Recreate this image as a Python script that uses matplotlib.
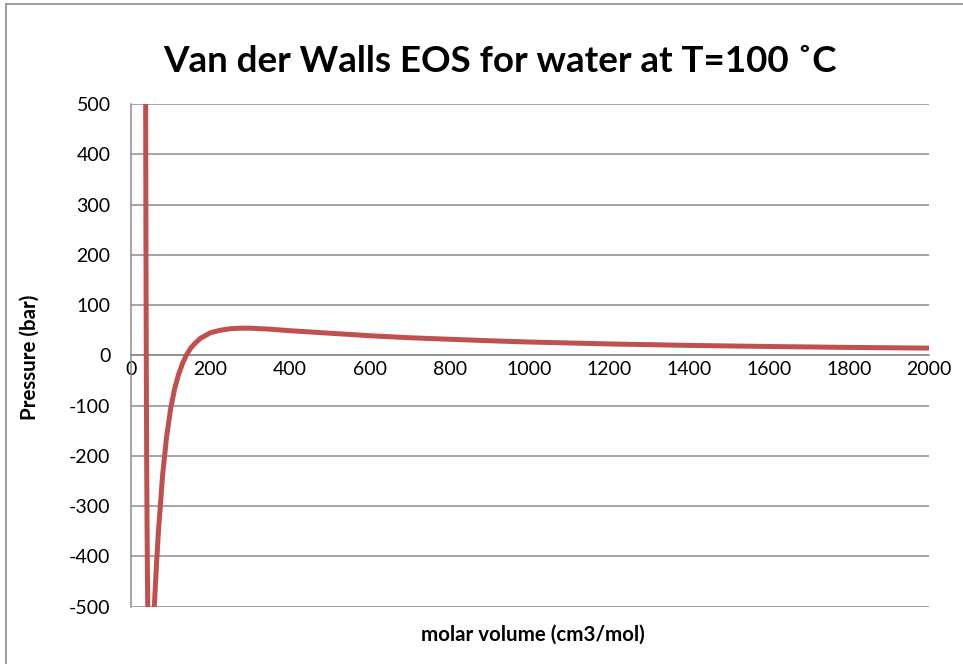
import matplotlib
matplotlib.use('Agg')
import matplotlib.pyplot as plt
from matplotlib.lines import Line2D

plt.rcParams['font.family'] = ['Lato', 'DejaVu Sans']

# molar volume (cm3/mol) and pressure (bar)
volume = [36, 37, 38, 39, 40, 41, 42, 43, 45, 50, 55, 60, 65, 70, 80, 90,
          100, 110, 120, 130, 140, 150, 160, 175, 200, 225, 250, 275, 300,
          350, 400, 500, 600, 700, 800, 900, 1000, 1200, 1400, 1600, 1800, 2000]
pressure = [1359, 722, 297, 6, -198, -341, -443, -514, -596, -624, -564, -487,
            -411, -345, -238, -162, -107, -67, -38, -16, 1, 14, 23, 34, 45,
            50, 53, 54, 54, 52, 49, 44, 39, 35, 32, 29, 26.5, 22.7, 19.8,
            17.6, 15.8, 14.4]

x_ticks = [0, 200, 400, 600, 800, 1000, 1200, 1400, 1600, 1800, 2000]
y_ticks = [-500, -400, -300, -200, -100, 0, 100, 200, 300, 400, 500]

W, H = 963, 664
fig = plt.figure(figsize=(W / 100, H / 100), dpi=100)
ax = fig.add_axes([130.7 / W, 1 - 606.7 / H, (928.5 - 130.7) / W, (606.7 - 104) / H])

grid_col = '#8c8c8c'
ax.plot(volume, pressure, color='#c0504d', lw=3.6, solid_capstyle='round',
        solid_joinstyle='round', zorder=3)

ax.set_xlim(0, 2000)
ax.set_ylim(-500, 500)
ax.set_xticks(x_ticks)
ax.set_yticks(y_ticks)
ax.set_xticklabels([str(t) for t in x_ticks])
ax.set_yticklabels([str(t) for t in y_ticks])
ax.yaxis.grid(True, color=grid_col, lw=1.1)
ax.set_axisbelow(True)

for s in ['top', 'right']:
    ax.spines[s].set_visible(False)
ax.spines['bottom'].set_position(('data', 0))
ax.spines['bottom'].set_color(grid_col)
ax.spines['bottom'].set_linewidth(1.1)
ax.spines['left'].set_color(grid_col)
ax.spines['left'].set_linewidth(1.1)
ax.tick_params(axis='both', length=0, labelsize=14, colors='black')
ax.tick_params(axis='x', pad=4)
ax.tick_params(axis='y', pad=14.5)

fig.text(500 / W, 1 - 62 / H, 'Van der Walls EOS for water at T=100 ˚C',
         ha='center', va='center', fontsize=26.5, fontweight='bold')
fig.text(533 / W, 1 - 635 / H, 'molar volume (cm3/mol)',
         ha='center', va='center', fontsize=14.8, fontweight='bold')
fig.text(30 / W, 1 - 357 / H, 'Pressure (bar)', rotation=90,
         ha='center', va='center', fontsize=14.8, fontweight='bold')

# chart area border (top and left edges visible)
fig.add_artist(Line2D([6 / W, 6 / W], [0, 1 - 4 / H], transform=fig.transFigure,
                      color='#8c8c8c', lw=1.2))
fig.add_artist(Line2D([6 / W, 1], [1 - 4 / H, 1 - 4 / H], transform=fig.transFigure,
                      color='#8c8c8c', lw=1.2))

fig.savefig('out.png', dpi=100)
